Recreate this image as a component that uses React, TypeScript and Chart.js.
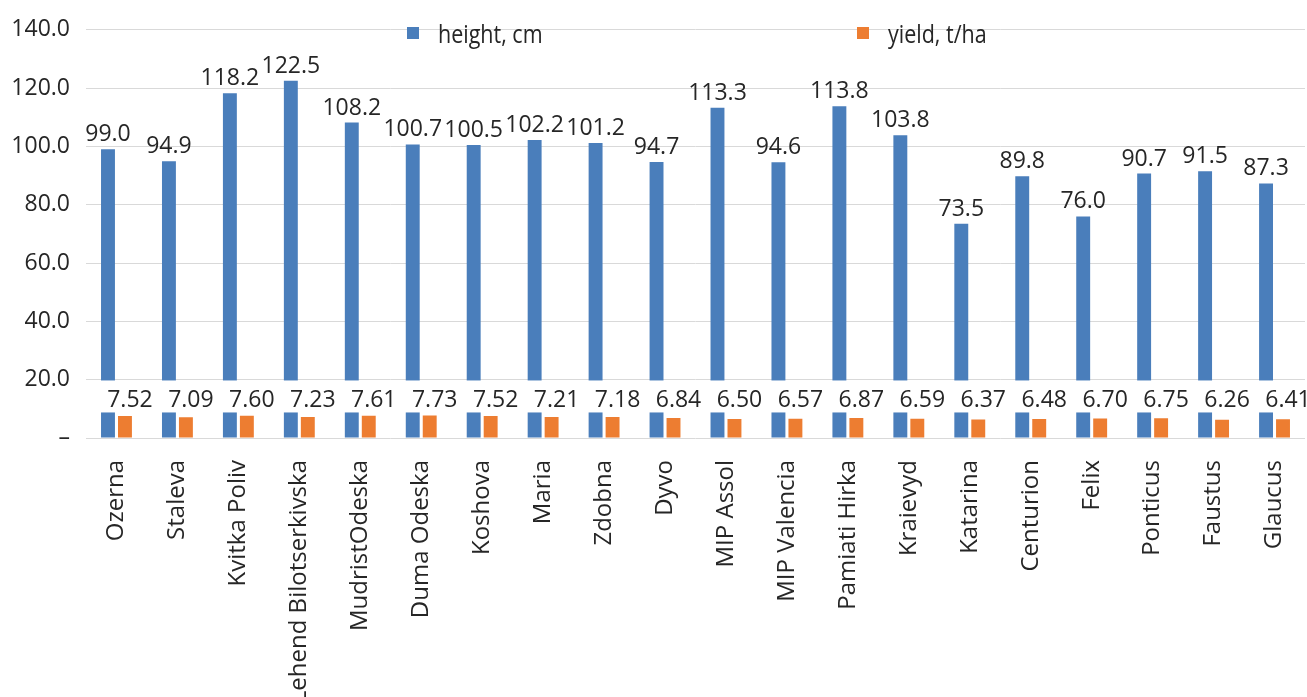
import React, { useEffect, useRef } from 'react';
import { Chart, registerables } from 'chart.js';

Chart.register(...registerables);

const categories = [
  'Ozerna', 'Staleva', 'Kvitka Poliv', 'Lehend Bilotserkivska', 'MudristOdeska',
  'Duma Odeska', 'Koshova', 'Maria', 'Zdobna', 'Dyvo', 'MIP Assol', 'MIP Valencia',
  'Pamiati Hirka', 'Kraievyd', 'Katarina', 'Centurion', 'Felix', 'Ponticus', 'Faustus', 'Glaucus',
];
const heightValues = [99.0, 94.9, 118.2, 122.5, 108.2, 100.7, 100.5, 102.2, 101.2, 94.7, 113.3, 94.6, 113.8, 103.8, 73.5, 89.8, 76.0, 90.7, 91.5, 87.3];
const yieldValues = [7.52, 7.09, 7.60, 7.23, 7.61, 7.73, 7.52, 7.21, 7.18, 6.84, 6.50, 6.57, 6.87, 6.59, 6.37, 6.48, 6.70, 6.75, 6.26, 6.41];
const seriesNames = ['height, cm', 'yield, t/ha'];
const yTicks = [0, 20, 40, 60, 80, 100, 120, 140];

const BLUE = '#4a7ebb';
const ORANGE = '#ed7d31';
const TEXT = '#262626';
const FONT = '"Open Sans", "DejaVu Sans", sans-serif';

const valueLabels = {
  id: 'valueLabels',
  afterDatasetsDraw(chart: any) {
    const ctx = chart.ctx;
    const yScale = chart.scales.y;
    const hMeta = chart.getDatasetMeta(0);
    const yMeta = chart.getDatasetMeta(1);
    ctx.save();
    ctx.font = `23px ${FONT}`;
    ctx.textAlign = 'center';
    ctx.textBaseline = 'alphabetic';
    ctx.fillStyle = TEXT;
    hMeta.data.forEach((bar: any, i: number) => {
      ctx.fillText(heightValues[i].toFixed(1), bar.x, bar.y - 8);
    });
    const baseline = yScale.getPixelForValue(Math.max(...yieldValues)) - 8;
    yMeta.data.forEach((bar: any, i: number) => {
      const txt = yieldValues[i].toFixed(2);
      const w = ctx.measureText(txt).width;
      const cx = bar.x + 5;
      const blue = hMeta.data[i];
      const left = Math.min(cx - w / 2 - 2, blue.x - blue.width / 2 - 1);
      ctx.fillStyle = '#ffffff';
      ctx.fillRect(left, baseline - 27, cx + w / 2 + 3 - left, 32);
      ctx.fillStyle = TEXT;
      ctx.fillText(txt, cx, baseline);
    });
    ctx.restore();
  },
};

const customLegend = {
  id: 'customLegend',
  afterDraw(chart: any) {
    const ctx = chart.ctx;
    const xs = [407, 857];
    const colors = [BLUE, ORANGE];
    seriesNames.forEach((name, i) => {
      ctx.save();
      ctx.fillStyle = colors[i];
      ctx.fillRect(xs[i], 27, 12, 12);
      ctx.font = `25px ${FONT}`;
      ctx.textAlign = 'left';
      ctx.textBaseline = 'alphabetic';
      ctx.fillStyle = TEXT;
      ctx.translate(xs[i] + 31, 43);
      ctx.scale(0.86, 1);
      ctx.fillText(name, 0, 0);
      ctx.restore();
    });
  },
};

export default function App() {
  const canvasRef = useRef<HTMLCanvasElement | null>(null);

  useEffect(() => {
    if (!canvasRef.current) return;
    const chart = new Chart(canvasRef.current, {
      type: 'bar',
      data: {
        labels: categories,
        datasets: [
          {
            label: seriesNames[0],
            data: heightValues,
            backgroundColor: BLUE,
            categoryPercentage: 0.557,
            barPercentage: 0.82,
          },
          {
            label: seriesNames[1],
            data: yieldValues,
            backgroundColor: ORANGE,
            categoryPercentage: 0.557,
            barPercentage: 0.82,
          },
        ],
      },
      options: {
        responsive: false,
        animation: false,
        devicePixelRatio: 1,
        layout: { padding: { top: 27, right: 2, left: 0, bottom: 0 } },
        plugins: {
          legend: { display: false },
          tooltip: { enabled: false },
        },
        scales: {
          x: {
            grid: { display: false },
            border: { display: false },
            ticks: {
              autoSkip: false,
              maxRotation: 90,
              minRotation: 90,
              padding: 14,
              color: TEXT,
              font: { family: FONT, size: 24 },
            },
            afterFit: (s: any) => {
              s.height = 259;
              s.paddingLeft = 0;
              s.paddingRight = 0;
            },
          },
          y: {
            min: yTicks[0],
            max: yTicks[yTicks.length - 1],
            afterBuildTicks: (s: any) => {
              s.ticks = yTicks.map((v) => ({ value: v }));
            },
            ticks: {
              padding: 16,
              color: TEXT,
              font: { family: FONT, size: 23 },
              callback: (v: any) => (Number(v) === 0 ? '–' : Number(v).toFixed(1)),
            },
            grid: { color: '#d9d9d9', drawTicks: false, lineWidth: 1 },
            border: { display: false },
            afterFit: (s: any) => {
              s.width = 86;
            },
          },
        },
      },
      plugins: [valueLabels, customLegend],
    });
    return () => chart.destroy();
  }, []);

  return (
    <div style={{ position: 'fixed', left: 0, top: 0, width: 1307, height: 697, background: '#fff' }}>
      <canvas ref={canvasRef} width={1307} height={697} style={{ display: 'block' }} />
    </div>
  );
}
